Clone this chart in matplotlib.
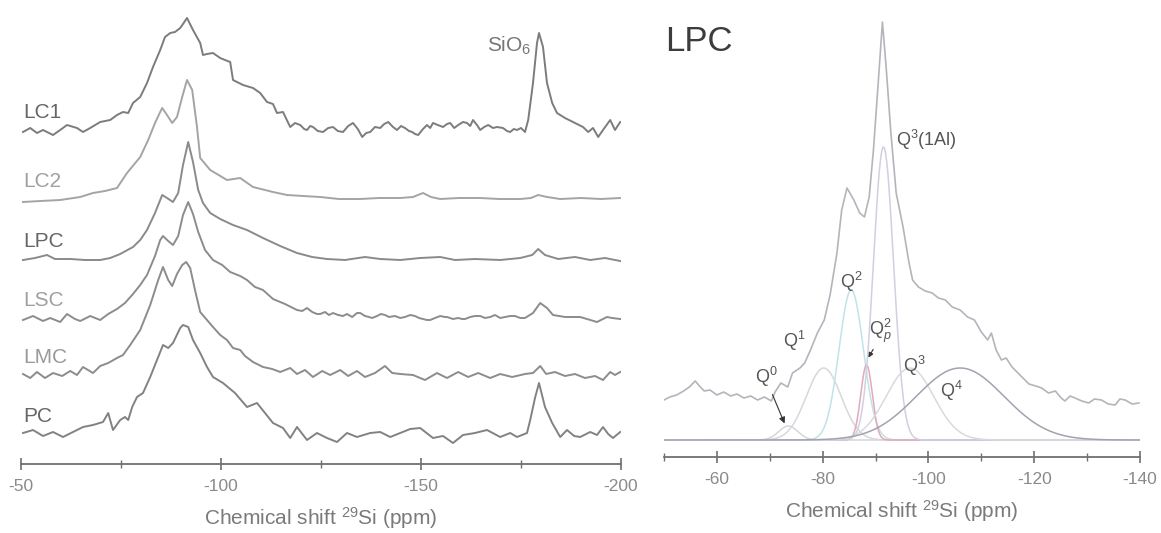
import numpy as np
import matplotlib
matplotlib.use('Agg')
from matplotlib import pyplot as plt

plt.rcParams['font.family'] = ['Liberation Sans', 'DejaVu Sans']
plt.rcParams['mathtext.fontset'] = 'custom'
plt.rcParams['mathtext.rm'] = 'Liberation Sans'
plt.rcParams['mathtext.it'] = 'Liberation Sans:italic'
plt.rcParams['mathtext.bf'] = 'Liberation Sans:bold'

# ---- left panel: stacked 29Si spectra (ppm, intensity a.u.) ----
lc1_ppm = [-50.5, -52.3, -54, -55.5, -58, -59.8, -61.5, -64, -65.5, -67.3, -69.8, -72.3, -74, -75.5,
           -76.8, -78, -79.8, -81.5, -83, -84.8, -86, -87.3, -88.5, -89.8, -90.5, -91.5, -93, -94.8,
           -95.5, -96.5, -98, -99.8, -101, -102.3, -103, -105.5, -108, -109.8, -111.5, -113, -114,
           -115.5, -117.3, -118.5, -119.8, -120.8, -121.5, -122.3, -123, -124.2, -125.5, -126.8, -128,
           -129.2, -130.5, -131.8, -133, -134.2, -135.3, -136.3, -137.3, -138.5, -139.8, -140.8,
           -141.8, -143, -144, -145, -146, -147, -147.8, -148.5, -149.3, -150.5, -151.5, -152.3, -153,
           -154.2, -155.5, -156.5, -157.3, -158.3, -159.3, -160.5, -161.5, -162.3, -163, -164, -164.8,
           -165.8, -166.8, -168, -169, -170.5, -171.5, -172.3, -173.2, -174, -175, -176, -176.8, -178,
           -179, -179.5, -180.5, -181.5, -182.8, -184, -186, -188, -190.5, -191.8, -193, -194.3, -195.5,
           -197.3, -198.5, -199.8]
lc1_int = [-1, 3, -2, 1, -4, 1, 6, 3, -1, 3, 9, 11, 16, 19,
           18, 28, 34, 48, 64, 81, 94, 98, 99, 103, 107, 113, 101, 88,
           76, 77, 78, 73, 71, 69, 51, 46, 43, 38, 29, 27, 18,
           19, 4, 8, 6, 2, 1, 5, 4, 0, -1, 3, 4,
           0, -1, 5, 8, 2, -6, -2, -1, 4, 3, 7,
           9, 4, 1, 5, 3, 0, -1, -3, -4, 2, 6, 3, 8,
           6, 4, 7, 8, 3, 6, 9, 8, 5, 11, 6, 1,
           4, 6, 3, 4, 3, 0, -1, 2, 1, 3, -1, 11, 48,
           88, 98, 84, 48, 28, 18, 13, 9, 4, -1, 3, -6, 1,
           11, 1, 9]

lc2_ppm = [-50.5, -54.8, -59.8, -64.8, -68, -71, -74, -76.5, -79.8, -81.8, -83.5, -84.8, -85.3, -86.5,
           -87.8, -89, -90.3, -91.5, -92.8, -94, -94.8, -97.3, -101.5, -104.8, -108, -113, -116.5,
           -120.5, -124.8, -129.5, -134.8, -139.5, -144.8, -148, -150.5, -152.5, -154.8, -159.5, -164.8,
           -169.5, -174.8, -177.5, -179.3, -181.5, -184.8, -190, -195, -199.8]
lc2_int = [-2, -1, 0, 3, 7, 9, 12, 27, 43, 60, 77, 88, 92, 85,
           77, 83, 103, 120, 110, 73, 42, 30, 20, 22, 13, 8, 5,
           4, 3, 1, 1, 2, 2, 3, 7, 3, 1, 2, 2,
           1, 1, 2, 5, 3, 1, 2, 1, 2]

lpc_ppm = [-50.5, -53.5, -56.5, -58.5, -62.3, -66, -69.8, -72.3, -74.8, -78, -79.8, -81.5, -83.5, -85.3,
           -86.5, -88, -89.3, -90.5, -91.8, -93, -94.3, -95.5, -97.3, -99.8, -103, -106.5, -110.5,
           -114.8, -119, -122.8, -126.5, -131, -136, -139.8, -144.8, -149.8, -154.8, -158.5, -163.5,
           -169.8, -174.8, -177.8, -179.3, -181, -184.3, -188.5, -192.3, -196, -199.8]
lpc_int = [0, 2, 5, 1, 1, 0, 0, 2, 6, 13, 20, 30, 47, 65,
           62, 58, 67, 95, 118, 98, 70, 57, 47, 41, 35, 30, 22,
           14, 7, 3, 1, 0, 3, 1, 0, 2, 3, 0, 1,
           0, 2, 5, 11, 5, 1, 3, 0, 2, -1]

lsc_ppm = [-50.5, -53, -55.5, -57.3, -59.8, -61.5, -63.5, -64.8, -67.3, -69.8, -71.8, -74, -76, -78,
           -79.8, -81.5, -83.5, -84.8, -85.5, -86.8, -88, -89.3, -90.5, -91.8, -93, -94.3, -96, -98,
           -100.3, -102.3, -104.8, -106.5, -108.5, -110.5, -113, -116, -119, -120.3, -121.5, -122.8,
           -124, -124.8, -126, -127, -128, -129.3, -130.5, -131.5, -132.8, -134, -134.8, -136, -137,
           -137.8, -139, -140, -141, -142, -143.5, -144.8, -146, -147.3, -148.5, -149.5, -150.5,
           -151.5, -152.3, -153.5, -154.8, -156, -156.5, -158, -159.3, -160.3, -161, -162.3, -163.5,
           -164.8, -166, -167.3, -168.5, -169.8, -171, -172.3, -173.5, -174.8, -176, -178, -179.8,
           -181.5, -183, -186, -189.8, -194, -196.5, -197.8, -199.8]
lsc_int = [-1, 3, -2, 1, -3, 5, 0, -2, 3, -1, 5, 10, 16, 25,
           34, 44, 63, 79, 83, 78, 74, 83, 104, 117, 105, 87, 69, 59,
           54, 47, 43, 39, 32, 29, 20, 15, 9, 8, 11, 7,
           5, 5, 7, 4, 6, 4, 3, 5, 2, 6, 6, 3, 2,
           1, 3, 5, 4, 2, 3, 1, 2, 4, 3, 1, 0,
           -1, -1, 1, 3, 2, 2, 0, 1, 0, 0, 2, 3,
           3, 1, 2, 4, 1, 2, 3, 3, 1, 1, 6, 16,
           11, 4, 2, 2, -3, 2, 1, 0]

lmc_ppm = [-50.5, -52.3, -54, -56, -58, -60.3, -62.3, -64, -65.5, -68, -69.8, -71.8, -74, -75.5,
           -77.3, -79.8, -82.3, -84.3, -85.5, -86.8, -87.8, -89, -90.3, -91.3, -92.3, -93.5, -94.8,
           -96.5, -98, -99.8, -101.5, -103, -104.8, -106, -108, -110.5, -112.8, -114.8, -117.3, -119,
           -121, -123, -125.3, -127.3, -129.8, -131.8, -134, -136, -138.5, -141, -142.8, -144.8, -148,
           -151, -154, -156.5, -159.3, -161.8, -164.3, -167.3, -169.8, -172.8, -176, -178, -179.8,
           -181.3, -183.5, -186, -188.5, -191, -193.5, -195.5, -197.3, -198.5, -199.8]
lmc_int = [2, -2, 4, -2, 3, 0, 5, 1, 9, 3, 10, 13, 18, 21,
           31, 46, 71, 96, 109, 96, 90, 102, 111, 114, 108, 86, 64,
           56, 49, 41, 36, 28, 26, 20, 14, 9, 7, 4, 8, 2,
           6, -1, 5, 1, 6, 0, 5, -1, 3, 10, 3, 2, 1,
           -4, 3, -2, 4, -1, 3, -2, 2, -1, 2, 3, 10,
           2, 4, 0, 2, -2, 0, -4, 4, 1, 4]

pc_ppm = [-50.5, -53, -55.5, -58, -60.5, -63, -65.5, -68, -70.5, -71.8, -73, -74.8, -76, -76.8, -77.8,
          -79, -80.5, -82.3, -84, -85.5, -86.8, -88, -89.8, -90.5, -91.8, -93, -94.8, -96.5, -98,
          -100.5, -103.5, -106.5, -109, -111, -113, -115.5, -117.3, -119, -121.5, -124, -126.5, -129,
          -131.5, -134, -137.3, -139.8, -142.3, -144.8, -147.3, -149.8, -153, -155.5, -158, -160.5,
          -163.5, -166.5, -169.8, -172.3, -174, -176.5, -177.3, -178.5, -179.5, -181, -182.8, -184.8,
          -186.5, -188.3, -189.8, -192.3, -194, -195.5, -196.8, -198, -199.8]
pc_int = [2, 5, -1, 3, -2, 3, 8, 10, 13, 22, 5, 15, 18, 15, 28,
          38, 42, 58, 75, 90, 87, 92, 107, 110, 108, 95, 82, 68, 58,
          52, 42, 28, 32, 22, 12, 7, -3, 8, -5, 2, -3, -7,
          2, -2, 2, 3, -2, 2, 6, 7, -3, -1, -8, 0,
          2, 5, -2, 2, -2, 2, 15, 37, 52, 28, 12, -2,
          5, -1, -2, 3, 0, 8, 1, -3, 3]

names = ['LC1', 'LC2', 'LPC', 'LSC', 'LMC', 'PC']
spectra = [(lc1_ppm, lc1_int), (lc2_ppm, lc2_int), (lpc_ppm, lpc_int),
           (lsc_ppm, lsc_int), (lmc_ppm, lmc_int), (pc_ppm, pc_int)]

# ---- right panel: LPC deconvolution ----
tot_ppm = [-50, -51.1, -52.4, -53.7, -54.8, -55.9, -56.7, -57.6, -58.7, -60, -61.3, -62.6, -63.8, -65.1,
           -66.4, -67.7, -69, -70.3, -71, -72.1, -73.4, -74.3, -75.7, -76.6, -77.7, -79, -80.3, -81.4,
           -82.7, -83.6, -84.6, -85.9, -87, -87.9, -88.8, -89.6, -90.5, -91.3, -92, -92.9, -93.9, -95.2,
           -96.3, -97, -98.1, -99.4, -100.7, -101.9, -103.2, -104.5, -106, -107.4, -108.7, -110, -111.2,
           -111.9, -112.8, -113.8, -114.7, -115.8, -117.3, -119, -120.3, -121.4, -122.7, -124, -125.1,
           -125.8, -126.8, -127.7, -129, -130.3, -131.4, -132.7, -134, -135.3, -136.2, -137.2, -138.5,
           -139.8]
tot_int = [40, 43, 45, 49, 53, 59, 54, 49, 50, 45, 48, 44, 46, 42,
           44, 40, 43, 39, 48, 57, 53, 67, 72, 77, 90, 107, 120, 145,
           187, 230, 252, 240, 227, 223, 243, 290, 357, 418, 373, 307, 247, 213,
           178, 160, 153, 149, 147, 142, 140, 133, 130, 123, 120, 108, 100,
           107, 90, 80, 82, 73, 65, 56, 54, 52, 47, 49, 42,
           39, 44, 42, 39, 37, 41, 40, 36, 35, 41, 40, 36,
           37]

comp_names = ['Q$^0$', 'Q$^1$', 'Q$^2$', 'Q$^2_p$', 'Q$^3$(1Al)', 'Q$^3$', 'Q$^4$']
comp_center = [-73.5, -80.2, -85.4, -88.3, -91.5, -96.5, -106.0]
comp_sigma = [1.8, 3.3, 2.3, 1.1, 1.9, 4.5, 8.3]
comp_height = [14, 72, 150, 75, 293, 72, 72]
comp_colors = ['#d4d6de', '#d8d8dc', '#bfe4e8', '#e2aab6', '#cfd0e2', '#d8dadd', '#a2a3ae']

fig = plt.figure(figsize=(11.61, 5.33), dpi=100)

tick_col = '#8a8a8a'
axis_col = '#707070'

# left panel
ax1 = fig.add_axes([21 / 1161, 69 / 533, 600 / 1161, 454 / 533])
offsets = [333, 264, 204, 145, 88, 29]
line_cols = ['#7c7c7c', '#a4a4a4', '#8a8a8a', '#8c8c8c', '#8c8c8c', '#828282']
label_cols = ['#666666', '#a0a0a0', '#666666', '#a0a0a0', '#9a9a9a', '#666666']
for (x, y), off, name, lc, tc in zip(spectra, offsets, names, line_cols, label_cols):
    ax1.plot(x, np.array(y) + off, color=lc, lw=1.4)
    ax1.text(-50.5, off + 9, name, fontsize=15, color=tc, ha='left', va='bottom')
ax1.text(-177.5, 412, 'SiO$_6$', fontsize=15, color='#777777', ha='right', va='baseline')
ax1.set_xlim(-50, -200)
ax1.set_ylim(0, 454)
ax1.set_xticks([-50, -100, -150, -200])
ax1.set_xticks([-75, -125, -175], minor=True)
ax1.set_xticklabels(['-50', '-100', '-150', '-200'])
ax1.set_xlabel('Chemical shift $^{29}$Si (ppm)', fontsize=15, color='#7a7a7a', labelpad=8)

# right panel
ax2 = fig.add_axes([664 / 1161, 76 / 533, 476 / 1161, 447 / 533])
grid = np.linspace(-50, -140, 901)
for c, s, h, col in zip(comp_center, comp_sigma, comp_height, comp_colors):
    ax2.plot(grid, h * np.exp(-(grid - c) ** 2 / (2 * s ** 2)), color=col, lw=1.1)
ax2.plot(tot_ppm, tot_int, color='#b4b4bc', lw=1.2)
ax2.text(-50.2, 389, 'LPC', fontsize=25, color='#3c3c3c', ha='left', va='baseline')
label_pos = [(-67.3, 57), (-72.5, 93), (-83.3, 152), (-88.7, 105), (-93.9, 294), (-95.2, 68), (-102.2, 43)]
for name, (lx, ly) in zip(comp_names, label_pos):
    ax2.text(lx, ly, name, fontsize=13, color='#555555', ha='left', va='baseline')
ax2.annotate('', xy=(-73.0, 14), xytext=(-70.3, 48),
             arrowprops=dict(arrowstyle='-|>', color='#333333', lw=0.8, mutation_scale=9))
ax2.annotate('', xy=(-88.4, 80), xytext=(-89.8, 93),
             arrowprops=dict(arrowstyle='-|>', color='#333333', lw=0.8, mutation_scale=7))
ax2.set_xlim(-50, -140)
ax2.set_ylim(-17, 430)
ax2.set_xticks([-60, -80, -100, -120, -140])
ax2.set_xticks([-50, -70, -90, -110, -130], minor=True)
ax2.set_xticklabels(['-60', '-80', '-100', '-120', '-140'])
ax2.set_xlabel('Chemical shift $^{29}$Si (ppm)', fontsize=15, color='#7a7a7a', labelpad=8)

for ax in (ax1, ax2):
    for side in ('top', 'left', 'right'):
        ax.spines[side].set_visible(False)
    ax.spines['bottom'].set_color(axis_col)
    ax.spines['bottom'].set_linewidth(1.3)
    ax.set_yticks([])
    ax.patch.set_alpha(0)
    ax.tick_params(axis='x', which='major', direction='inout', length=9, width=1.2,
                   color=axis_col, labelcolor=tick_col, labelsize=12.5, pad=6)
    ax.tick_params(axis='x', which='minor', direction='inout', length=6, width=1.0, color=axis_col)

fig.savefig('out.png', dpi=100)
